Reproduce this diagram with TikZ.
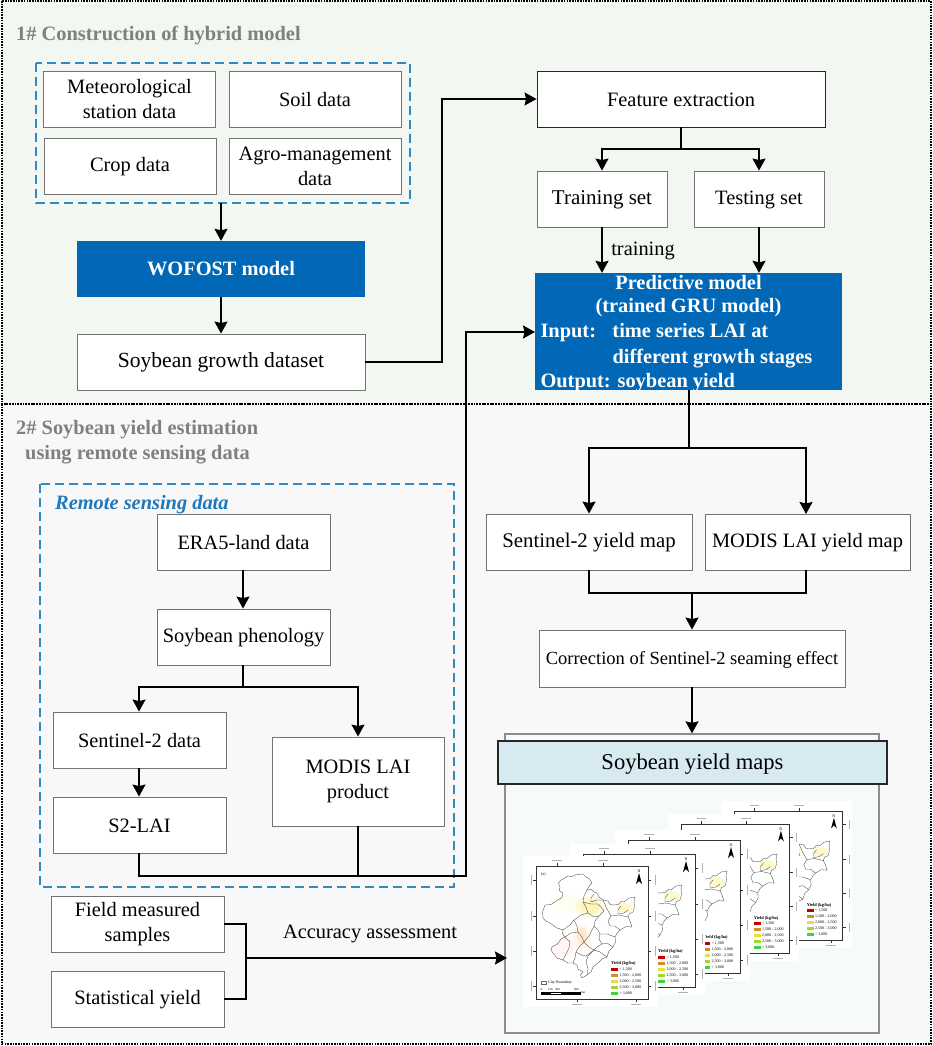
\documentclass[tikz,border=0pt]{standalone}
\usepackage{fontspec}
\setmainfont{Liberation Serif}
\usetikzlibrary{arrows.meta,calc}
\definecolor{panelA}{HTML}{F3F7F1}
\definecolor{panelB}{HTML}{F8F8F8}
\definecolor{dashblue}{HTML}{2F8AC4}
\definecolor{rstext}{HTML}{1F78BE}
\definecolor{deepblue}{HTML}{0068B7}
\definecolor{titlegray}{HTML}{808080}
\definecolor{bannerblue}{HTML}{D8EAF1}
\definecolor{mapfill}{HTML}{F7FAFB}
\tikzset{
  panel/.style={draw=black,line width=1.1pt,dash pattern=on 1.6pt off 1.1pt},
  groupbox/.style={draw=dashblue,line width=1.5pt,dash pattern=on 9pt off 5pt},
  plainbox/.style={draw=black!55,line width=0.9pt,fill=white,align=center,inner sep=1pt,
    font=\fontsize{20.4}{25}\selectfont,execute at begin node={\rule{0pt}{16pt}}},
  bluebox/.style={fill=deepblue,text=white,align=center,inner sep=1pt,
    font=\bfseries\fontsize{20.4}{24.5}\selectfont},
  link/.style={draw=black,line width=1.6pt},
  arrowlink/.style={link,-{Stealth[length=12pt,width=13pt,inset=1.5pt]}},
  paneltitle/.style={text=titlegray,anchor=west,inner sep=0pt,font=\bfseries\fontsize{20.4}{25}\selectfont},
  tinytext/.style={inner sep=0pt,anchor=west,font=\fontsize{4}{4}\selectfont},
  ticklab/.style={draw=black!30,line width=0.7pt},
  border/.style={draw=black!70,line width=.35pt,line join=round},
}
\newcommand{\mapsheet}[3]{%
\begin{scope}[shift={(#1,#2)},scale=#3]
  \fill[white] (-13,-10) rectangle (122,141);
  % soft yield shading
  \fill[yellow!80!orange,opacity=.12] (54,41) ellipse (15 and 11);
  \fill[yellow!80!orange,opacity=.18] (54,41) ellipse (10 and 7);
  \fill[yellow!80!orange,opacity=.2] (89,42) ellipse (8 and 5);
  \fill[orange,opacity=.08] (46,71) ellipse (9 and 12);
  \fill[orange,opacity=.12] (46,70) ellipse (5 and 8);
  \fill[red!40!orange,opacity=.05] (27,81) ellipse (11 and 10);
  \fill[yellow,opacity=.05] (30,38) ellipse (16 and 10);
  % outline and inner boundaries
  \draw[border] (25,14) -- (28,12.5) -- (32,10) -- (36,10.5) -- (40,8.5) -- (47,8) -- (50,11) -- (53,12.5) -- (56,17)
    -- (53.5,19.5) -- (51,24) -- (55,23.5) -- (58,26) -- (61,27) -- (63,31) -- (67,34) -- (72,35) -- (74,38.5) -- (77,39)
    -- (82,38.5) -- (85,35.5) -- (88,36) -- (93,32) -- (99,31) -- (98,36) -- (98.5,41) -- (97,46) -- (93.5,47.5) -- (92,51)
    -- (94,55) -- (96,61) -- (90,60.5) -- (84,64) -- (81.5,66.5) -- (79,71) -- (79.5,76) -- (77,81) -- (73,85) -- (71,91)
    -- (66,93) -- (62,97) -- (57,101) -- (55,106) -- (51,109) -- (46,112) -- (44.5,109) -- (47,106) -- (42,103) -- (41,99)
    -- (37,97) -- (32,97) -- (27,94) -- (21,92) -- (17,87) -- (15,84) -- (16,81) -- (22,77.5) -- (25,73) -- (29,71)
    -- (26.5,67.5) -- (27,64) -- (21,62) -- (14,57) -- (10,55) -- (7,52) -- (6.5,46) -- (9,39) -- (15,38.5) -- (22,34)
    -- (26,31.5) -- (27,27) -- (23,24.5) -- (24,21) -- (22.5,17) -- cycle;
  \draw[border] (51,24) -- (48,30) -- (47,36) -- (50,41) -- (52,47) -- (45,49) -- (38,54) -- (34,59) -- (27,64);
  \draw[border] (52,47) -- (58,51) -- (63,50) -- (66,47) -- (68,45) -- (65,41) -- (62,38) -- (55,38) -- (47,36);
  \draw[border] (63,50) -- (59,55) -- (58,60) -- (62,64) -- (64,68) -- (71,68) -- (79,71);
  \draw[border] (38,54) -- (41,60) -- (42,66) -- (35,67) -- (29,71);
  \draw[border] (42,66) -- (46,71) -- (48,76) -- (53,70) -- (58,60);
  \draw[border] (48,76) -- (43,81) -- (40,86) -- (39,92) -- (37,97);
  \draw[border] (48,76) -- (53,81) -- (58,84) -- (64,86) -- (71,91);
  \draw[border] (58,84) -- (52,90) -- (50,96) -- (52,103) -- (51,109);
  \draw[border] (67,34) -- (71,43) -- (75,50) -- (83,49) -- (92,51);
  \draw[border] (75,50) -- (72,55) -- (74,60) -- (79,60) -- (84,64);
  \draw[border] (29,71) -- (34,76) -- (33,82) -- (30,88) -- (27,94);
  \draw[border] (64,68) -- (63,73) -- (66,78) -- (61,81) -- (58,84);
  \draw[border] (66,78) -- (71,77) -- (77,81);
  \draw[border] (85,40) -- (82,44) -- (82,48) -- (88,47) -- (92,44);
  \draw[border] (58,28) -- (55,32) -- (55,36) -- (61,34) -- (67,34);
  \draw[border] (40,86) -- (45,89) -- (50,90) -- (58,84);
  % frame and graticule ticks
  \draw[black!80,line width=.8pt] (0,0) rectangle (112,133);
  \foreach \tx in {21,67}{\draw[black!80,line width=.5pt] (\tx,0) -- (\tx,-3);
    \draw[ticklab] (\tx-5,-6) -- (\tx+5,-6);}
  \foreach \tx in {41,100}{\draw[black!80,line width=.5pt] (\tx,133) -- (\tx,136);
    \draw[ticklab] (\tx-5,138) -- (\tx+5,138);}
  \foreach \ty in {14,50,85,120}{\draw[black!80,line width=.5pt] (112,\ty) -- (115,\ty);
    \draw[ticklab] (119,\ty-5) -- (119,\ty+5);
    \draw[black!80,line width=.5pt] (0,\ty) -- (-3,\ty);
    \draw[ticklab] (-5,\ty-5) -- (-5,\ty+5);}
  % north arrow
  \fill[black] (103,7) -- (100,18) -- (103,15) -- (106,18) -- cycle;
  \node[inner sep=0pt,font=\fontsize{4}{4}\selectfont] at (103,5) {N};
  % legend
  \node[tinytext,font=\bfseries\fontsize{4.4}{4.4}\selectfont] at (75,97.5) {Yield (kg/ha)};
  \foreach \ly/\lc/\lt in {103/C00000/{< 1,500},109/D98A2B/{1,500 - 2,000},115/E8E040/{2,000 - 2,500},121/A5D62C/{2,500 - 3,000},127/3CD33C/{> 3,000}}{
    \definecolor{legcol}{HTML}{\lc}
    \fill[legcol] (75,\ly-1.5) rectangle (82,\ly+1.5);
    \node[tinytext] at (83.5,\ly) {\lt};
  }
\end{scope}}
\begin{document}
\begin{tikzpicture}[x=1pt,y=-1pt]
\useasboundingbox (0,0) rectangle (933,1046);
\fill[white] (0,0) rectangle (933,1046);
% panels
\fill[panelB] (2,404) rectangle (931,1044);
\fill[panelA] (2,1) rectangle (931,404);
\draw[panel] (2,404) rectangle (931,1044);
\draw[panel] (2,1) rectangle (931,404);
\node[paneltitle] (t1) at (16,35.5) {1\# Construction of hybrid model};
\node[paneltitle] (t2a) at (16,430) {2\# Soybean yield estimation};
\node[paneltitle] (t2b) at (25,455) {using remote sensing data};
% dashed groups
\draw[groupbox,fill=panelA] (36,63) rectangle (410,203);
\coordinate (groupS) at (221,203);
\draw[groupbox,fill=panelB] (40,484) rectangle (454,887);
\node[anchor=west,inner sep=0pt,text=rstext,font=\bfseries\itshape\fontsize{20.4}{24}\selectfont] (rs) at (55,505) {Remote sensing data};
% top boxes
\node[plainbox,minimum width=172pt,minimum height=56pt] (met) at (129.5,99) {Meteorological\\station data};
\node[plainbox,minimum width=172pt,minimum height=56pt] (soil) at (315,99) {Soil data};
\node[plainbox,minimum width=172pt,minimum height=56pt] (crop) at (130,166) {Crop data};
\node[plainbox,minimum width=172pt,minimum height=56pt] (agro) at (315,166) {Agro-management\\data};
\node[bluebox,minimum width=288pt,minimum height=56pt] (wofost) at (221,269) {WOFOST model};
\node[plainbox,minimum width=288pt,minimum height=56pt,font=\fontsize{21.6}{25}\selectfont] (dataset) at (221,362) {Soybean growth dataset};
\node[plainbox,draw=black!85,minimum width=288pt,minimum height=56pt] (feat) at (681,99) {Feature extraction};
\node[plainbox,minimum width=130pt,minimum height=56pt,font=\fontsize{21}{25}\selectfont] (train) at (602,199) {Training set};
\node[plainbox,minimum width=130pt,minimum height=56pt] (test) at (759,199) {Testing set};
\node[bluebox,minimum width=307pt,minimum height=117pt,inner sep=0pt] (pred) at (688.5,331.5) {};
\node[text=white,align=left,inner sep=0pt,font=\bfseries\fontsize{20.4}{24.5}\selectfont] (predText) at (688.5,331.5) {%
  \rule{0pt}{18pt}\makebox[302pt][c]{Predictive model}\\[-1.5pt]
  \makebox[302pt][c]{(trained GRU model)}\\[.5pt]
  \makebox[302pt][l]{\hspace*{3pt}\makebox[72pt][l]{Input:}time series LAI at}\\[1.5pt]
  \makebox[302pt][l]{\hspace*{3pt}\makebox[72pt][l]{}different growth stages}\\[-.5pt]
  \makebox[302pt][l]{\hspace*{3pt}Output: soybean yield}};
% right column
\node[plainbox,minimum width=206pt,minimum height=56pt,font=\fontsize{20.8}{25}\selectfont] (s2map) at (589,542) {Sentinel-2 yield map};
\node[plainbox,minimum width=205pt,minimum height=56pt] (modmap) at (807.5,542) {MODIS LAI yield map};
\node[plainbox,minimum width=306pt,minimum height=57pt,font=\fontsize{18.5}{22}\selectfont] (corr) at (692,658.5) {Correction of Sentinel-2 seaming effect};
\node[draw=black!45,line width=1.3pt,fill=mapfill,minimum width=374pt,minimum height=299pt,inner sep=0pt] (mapbox) at (692,883.5) {};
\node[draw=black!85,line width=1.2pt,fill=bannerblue,minimum width=389pt,minimum height=43pt,inner sep=0pt,font=\fontsize{22.6}{25}\selectfont,execute at begin node={\rule{0pt}{18pt}}] (banner) at (692.5,762.5) {Soybean yield maps};
% map sheets
\mapsheet{734}{811}{.97}
\mapsheet{681}{824}{.97}
\mapsheet{628}{840}{1}
\mapsheet{583}{854}{1}
\mapsheet{536}{866}{1}
\node[tinytext] (mapE) at (541,875) {(e)};
\node[draw=black!60,line width=.4pt,minimum width=5.5pt,minimum height=3pt,inner sep=0pt] (cityS) at (543.5,982.5) {};
\node[tinytext] (cityT) at (548,982.5) {City Boundary};
\node[tinytext,font=\fontsize{3}{3}\selectfont] (sc0) at (540.5,989.5) {0};
\node[tinytext,font=\fontsize{3}{3}\selectfont] (sc1) at (548,989.5) {150};
\node[tinytext,font=\fontsize{3}{3}\selectfont] (sc2) at (555,989.5) {300};
\node[tinytext,font=\fontsize{3}{3}\selectfont] (sc3) at (574,989.5) {600};
\draw[black,line width=.5pt,fill=white] (541,992) rectangle (580,994);
\fill[black] (541,992) rectangle (551,994);
\fill[black] (561,992) rectangle (580,994);
\node[tinytext,font=\fontsize{3}{3}\selectfont] (sc4) at (580.5,993) {Km};
% left column
\node[plainbox,minimum width=173pt,minimum height=56pt] (era) at (243.5,542) {ERA5-land data};
\node[plainbox,minimum width=173pt,minimum height=56pt] (pheno) at (243.5,637) {Soybean phenology};
\node[plainbox,minimum width=173pt,minimum height=56pt] (s2) at (139.5,740) {Sentinel-2 data};
\node[plainbox,minimum width=173pt,minimum height=56pt] (s2lai) at (139.5,825) {S2-LAI};
\node[plainbox,minimum width=172pt,minimum height=89pt] (modis) at (358,781.5) {MODIS LAI\\product};
\node[plainbox,minimum width=173pt,minimum height=56pt] (field) at (137.5,924) {Field measured\\samples};
\node[plainbox,minimum width=173pt,minimum height=56pt] (stat) at (137.5,999) {Statistical yield};
% connectors
\draw[arrowlink] (groupS) -- (wofost.north);
\draw[arrowlink] (wofost.south) -- (dataset.north);
\coordinate (busA) at (442,99);
\draw[arrowlink] (dataset.east) -| (busA) -- (feat.west);
\coordinate (forkA) at (681,149);
\draw[link] (feat.south) -- (forkA);
\draw[arrowlink] (forkA) -| (train.north);
\draw[arrowlink] (forkA) -| (test.north);
\draw[arrowlink] (train.south) -- (train.south |- pred.north) node[midway,right=8.5pt,yshift=-1pt,inner sep=0pt,font=\fontsize{20.4}{25}\selectfont] {training};
\draw[arrowlink] (test.south) -- (test.south |- pred.north);
\coordinate (forkB) at (689,448);
\coordinate (modIn) at (806,514);
\coordinate (modOut) at (806,570);
\draw[link] ([xshift=.5pt]pred.south) -- (forkB);
\draw[arrowlink] (forkB) -| (s2map.north);
\draw[arrowlink] (forkB) -| (modIn);
\coordinate (joinB) at (692,593);
\draw[link] (s2map.south) |- (joinB);
\draw[link] (modOut) |- (joinB);
\draw[arrowlink] (joinB) -- (corr.north);
\draw[arrowlink] (corr.south) -- (mapbox.north);
\draw[arrowlink] ([xshift=-.5pt]era.south) -- ([xshift=-.5pt]pheno.north);
\coordinate (forkC) at (243,687);
\draw[link] ([xshift=-.5pt]pheno.south) -- (forkC);
\draw[arrowlink] (forkC) -| ([xshift=-.5pt]s2.north);
\draw[arrowlink] (forkC) -| (modis.north);
\draw[arrowlink] ([xshift=-.5pt]s2.south) -- ([xshift=-.5pt]s2lai.north);
\coordinate (busC) at (466,876);
\coordinate (predIn) at (535,332);
\draw[arrowlink] ([xshift=-.5pt]s2lai.south) |- (busC) |- (predIn);
\draw[link] (modis.south) -- (modis.south |- busC);
\coordinate (joinD) at (246,958);
\coordinate (mapIn) at (507,958);
\draw[link] (field.east) -| (joinD);
\draw[link] (stat.east) -| (joinD);
\draw[arrowlink] (joinD) -- (mapIn);
\node[inner sep=0pt,font=\fontsize{20.4}{25}\selectfont] (acc) at (370,934) {Accuracy assessment};
\end{tikzpicture}
\end{document}
